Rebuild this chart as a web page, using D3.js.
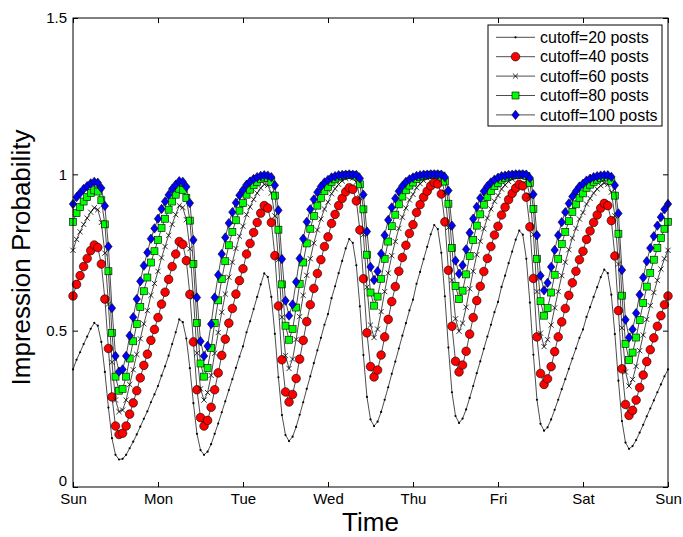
<!DOCTYPE html>
<html>
<head>
<meta charset="utf-8">
<script src="https://cdn.jsdelivr.net/npm/d3@7"></script>
<style>
  body { margin: 0; background: #fff; }
  text { font-family: Arial, "Liberation Sans", Helvetica, sans-serif; }
</style>
</head>
<body>
<div id="chart"></div>
<script>
// ── data (hourly, Sun 0:00 -> next Sun 0:00) ──
const dayLabels = ["Sun", "Mon", "Tue", "Wed", "Thu", "Fri", "Sat", "Sun"];
const yTicks = [0, 0.5, 1, 1.5];

const cutoff20 = [
  .376,.407,.431,.457,.481,.506,.525,.516,.464,.368,.254,.156,.103,.088,.090,.103,.124,.145,.168,.193,.218,.242,.271,.296,
  .323,.356,.386,.420,.457,.495,.536,.527,.475,.380,.268,.170,.118,.103,.113,.137,.170,.203,.239,.274,.310,.345,.381,.417,
  .450,.495,.530,.569,.608,.648,.683,.672,.608,.490,.351,.230,.166,.147,.161,.192,.231,.271,.314,.354,.396,.437,.477,.519,
  .553,.604,.642,.684,.723,.763,.793,.781,.709,.578,.422,.288,.216,.195,.209,.240,.279,.319,.362,.401,.443,.484,.524,.565,
  .599,.650,.688,.729,.768,.808,.838,.825,.749,.610,.446,.303,.227,.205,.219,.248,.285,.323,.364,.402,.442,.481,.519,.559,
  .592,.640,.676,.716,.753,.791,.820,.807,.730,.590,.423,.279,.202,.180,.191,.216,.247,.279,.313,.345,.378,.411,.443,.477,
  .504,.544,.575,.608,.639,.671,.695,.684,.615,.489,.340,.211,.142,.122,.131,.150,.174,.199,.226,.251,.277,.303,.328,.354,
  .376];

const cutoff40 = [
  .611,.648,.676,.705,.731,.756,.774,.766,.713,.601,.443,.288,.195,.168,.172,.195,.233,.269,.308,.349,.389,.425,.469,.504,
  .542,.585,.623,.664,.705,.745,.785,.776,.724,.616,.464,.311,.222,.195,.213,.255,.311,.365,.421,.473,.524,.571,.617,.660,
  .698,.745,.779,.814,.846,.876,.900,.892,.846,.740,.579,.407,.304,.272,.296,.347,.409,.469,.529,.583,.635,.683,.727,.769,
  .800,.843,.872,.900,.923,.944,.957,.952,.915,.822,.666,.493,.385,.352,.374,.422,.480,.536,.593,.641,.690,.734,.773,.811,
  .839,.878,.903,.927,.946,.963,.974,.969,.937,.848,.693,.514,.402,.368,.390,.434,.489,.542,.596,.642,.689,.731,.769,.806,
  .834,.870,.895,.919,.939,.956,.968,.963,.927,.832,.667,.480,.363,.328,.346,.385,.433,.480,.528,.571,.613,.653,.690,.727,
  .754,.792,.819,.846,.870,.892,.907,.900,.852,.739,.564,.378,.264,.229,.245,.278,.318,.358,.401,.439,.477,.514,.548,.583,
  .611];

const cutoff60 = [
  .757,.792,.816,.840,.860,.879,.893,.887,.846,.748,.585,.399,.278,.241,.246,.278,.328,.375,.424,.474,.522,.564,.613,.651,
  .690,.733,.769,.805,.840,.871,.900,.894,.855,.762,.608,.428,.314,.278,.302,.357,.428,.494,.559,.617,.671,.719,.763,.802,
  .834,.871,.896,.920,.940,.956,.968,.965,.940,.867,.727,.543,.420,.379,.409,.472,.545,.613,.677,.730,.780,.822,.857,.889,
  .911,.938,.954,.968,.979,.987,.991,.989,.975,.925,.807,.639,.518,.478,.505,.561,.625,.684,.740,.785,.827,.863,.892,.918,
  .936,.957,.970,.980,.988,.993,.996,.995,.984,.941,.830,.661,.538,.498,.524,.575,.634,.690,.743,.786,.826,.860,.889,.914,
  .932,.953,.966,.977,.985,.991,.994,.993,.980,.931,.808,.625,.492,.449,.471,.518,.573,.625,.676,.719,.759,.796,.827,.857,
  .878,.905,.923,.940,.953,.964,.972,.968,.943,.867,.713,.509,.368,.323,.344,.386,.436,.486,.536,.580,.622,.661,.697,.730,
  .757];

const cutoff80 = [
  .848,.876,.895,.913,.927,.940,.949,.945,.917,.840,.690,.493,.353,.308,.314,.353,.411,.466,.521,.576,.626,.670,.718,.754,
  .790,.828,.858,.887,.913,.935,.954,.950,.924,.852,.713,.525,.395,.353,.381,.445,.525,.597,.665,.722,.773,.816,.853,.884,
  .908,.935,.951,.965,.976,.985,.990,.988,.976,.932,.823,.648,.516,.471,.505,.574,.650,.718,.779,.826,.867,.900,.925,.946,
  .960,.975,.984,.990,.994,.997,.998,.998,.993,.968,.888,.743,.622,.580,.609,.666,.730,.785,.834,.871,.904,.929,.949,.964,
  .974,.985,.991,.995,.997,.999,.999,.999,.996,.977,.906,.764,.643,.601,.628,.680,.739,.790,.836,.872,.903,.927,.946,.962,
  .972,.983,.989,.993,.996,.998,.999,.999,.995,.972,.889,.730,.594,.548,.572,.622,.679,.730,.777,.816,.850,.880,.904,.925,
  .939,.957,.967,.976,.983,.988,.991,.990,.978,.932,.810,.612,.458,.406,.430,.478,.534,.588,.641,.685,.727,.764,.796,.826,
  .848];

const cutoff100 = [
  .905,.927,.940,.953,.962,.971,.976,.973,.956,.899,.769,.572,.419,.369,.376,.419,.484,.543,.601,.658,.708,.750,.794,.827,
  .858,.889,.913,.934,.953,.967,.978,.976,.960,.908,.790,.606,.466,.419,.451,.521,.606,.678,.745,.798,.844,.879,.909,.933,
  .950,.967,.977,.985,.991,.995,.997,.996,.991,.965,.885,.729,.596,.548,.584,.656,.731,.794,.848,.888,.920,.943,.961,.974,
  .982,.990,.994,.997,.998,.999,1.000,.999,.998,.987,.935,.817,.704,.662,.690,.746,.805,.854,.894,.923,.946,.963,.976,.984,
  .990,.995,.997,.999,.999,1.000,1.000,1.000,.999,.991,.948,.836,.724,.682,.709,.760,.813,.858,.896,.924,.946,.962,.974,.983,
  .989,.994,.996,.998,.999,1.000,1.000,1.000,.999,.988,.936,.805,.676,.629,.653,.704,.758,.805,.847,.879,.907,.929,.946,.961,
  .970,.980,.986,.991,.994,.996,.997,.997,.992,.965,.875,.694,.535,.478,.504,.556,.615,.670,.722,.764,.802,.836,.863,.888,
  .905];

const seriesNames = ["cutoff=20 posts", "cutoff=40 posts", "cutoff=60 posts", "cutoff=80 posts", "cutoff=100 posts"];

// ── layout ──
const width = 683, height = 537;
const plot = { left: 73, right: 668, top: 18, bottom: 487 };

const svg = d3.select("#chart").append("svg")
  .attr("width", width).attr("height", height)
  .attr("viewBox", [0, 0, width, height]);

const x = d3.scaleLinear().domain([0, 168]).range([plot.left, plot.right]);
const y = d3.scaleLinear().domain([0, 1.5]).range([plot.bottom, plot.top]);

// marker painters
const markers = {
  dot: (g) => g.append("circle").attr("r", 1.1).attr("fill", "#000"),
  circle: (g) => g.append("circle").attr("r", 4.3).attr("fill", "#ff0000").attr("stroke", "#000").attr("stroke-width", 0.6),
  cross: (g) => g.append("path").attr("d", "M-2.6,-2.6L2.6,2.6M-2.6,2.6L2.6,-2.6").attr("stroke", "#000").attr("stroke-width", 0.8).attr("fill", "none"),
  square: (g) => g.append("rect").attr("x", -3.5).attr("y", -3.5).attr("width", 7).attr("height", 7)
    .attr("fill", "#00ff00").attr("stroke", "#000").attr("stroke-width", 0.6),
  diamond: (g) => g.append("path").attr("d", "M0,-4.7L3.7,0L0,4.7L-3.7,0Z")
    .attr("fill", "#0000ff").attr("stroke", "#000").attr("stroke-width", 0.6)
};

const series = [
  { name: seriesNames[0], values: cutoff20, marker: "dot" },
  { name: seriesNames[1], values: cutoff40, marker: "circle" },
  { name: seriesNames[2], values: cutoff60, marker: "cross" },
  { name: seriesNames[3], values: cutoff80, marker: "square" },
  { name: seriesNames[4], values: cutoff100, marker: "diamond" }
];

const line = d3.line().x((d, i) => x(i)).y(d => y(d));

series.forEach(s => {
  const g = svg.append("g");
  g.append("path")
    .attr("d", line(s.values))
    .attr("fill", "none").attr("stroke", "#000").attr("stroke-width", 0.7);
  g.selectAll("g").data(s.values).join("g")
    .attr("transform", (d, i) => `translate(${x(i)},${y(d)})`)
    .each(function () { markers[s.marker](d3.select(this)); });
});

// ── axes (MATLAB-style box, ticks inward) ──
const xTickVals = dayLabels.map((d, i) => i * 24);

svg.append("g")
  .attr("transform", `translate(0,${plot.bottom})`)
  .call(d3.axisBottom(x).tickValues(xTickVals).tickFormat((d, i) => dayLabels[i]).tickSizeInner(-5).tickSizeOuter(0).tickPadding(6))
  .call(g => g.select(".domain").remove())
  .call(g => g.selectAll("text").attr("font-size", "15px").attr("font-family", "Arial, 'Liberation Sans', sans-serif").attr("fill", "#000"));

svg.append("g")
  .attr("transform", `translate(0,${plot.top})`)
  .call(d3.axisTop(x).tickValues(xTickVals).tickFormat("").tickSizeInner(-5).tickSizeOuter(0))
  .call(g => g.select(".domain").remove());

svg.append("g")
  .attr("transform", `translate(${plot.left},0)`)
  .call(d3.axisLeft(y).tickValues(yTicks).tickFormat(d3.format("")).tickSizeInner(-5).tickSizeOuter(0).tickPadding(6))
  .call(g => g.select(".domain").remove())
  .call(g => g.selectAll("text").attr("font-size", "15px").attr("font-family", "Arial, 'Liberation Sans', sans-serif").attr("fill", "#000"))
  .call(g => g.selectAll(".tick").filter(d => d === 0).select("text").attr("dy", "-0.12em"));

svg.append("g")
  .attr("transform", `translate(${plot.right},0)`)
  .call(d3.axisRight(y).tickValues(yTicks).tickFormat("").tickSizeInner(-5).tickSizeOuter(0))
  .call(g => g.select(".domain").remove());

svg.append("rect")
  .attr("x", plot.left).attr("y", plot.top)
  .attr("width", plot.right - plot.left).attr("height", plot.bottom - plot.top)
  .attr("fill", "none").attr("stroke", "#000").attr("stroke-width", 1);

// axis labels
svg.append("text")
  .attr("x", (plot.left + plot.right) / 2).attr("y", 531)
  .attr("text-anchor", "middle").attr("font-size", "26px").text("Time");

svg.append("text")
  .attr("transform", `translate(30,${(plot.top + plot.bottom) / 2 + 5}) rotate(-90)`)
  .attr("text-anchor", "middle").attr("font-size", "26px").text("Impression Probability");

// ── legend ──
const lg = svg.append("g");
lg.append("rect")
  .attr("x", 488).attr("y", 25).attr("width", 174).attr("height", 101)
  .attr("fill", "#fff").attr("stroke", "#000").attr("stroke-width", 1);

const entry = lg.selectAll("g.entry").data(series).join("g")
  .attr("class", "entry")
  .attr("transform", (d, i) => `translate(0,${37.3 + i * 19.4})`);

entry.append("line")
  .attr("x1", 496).attr("x2", 535).attr("y1", 0).attr("y2", 0)
  .attr("stroke", "#000").attr("stroke-width", 0.7);

entry.append("g")
  .attr("transform", "translate(515.5,0)")
  .each(function (d) { markers[d.marker](d3.select(this)); });

entry.append("text")
  .attr("x", 540).attr("dy", "0.35em")
  .attr("font-size", "16px")
  .text(d => d.name);
</script>
</body>
</html>
